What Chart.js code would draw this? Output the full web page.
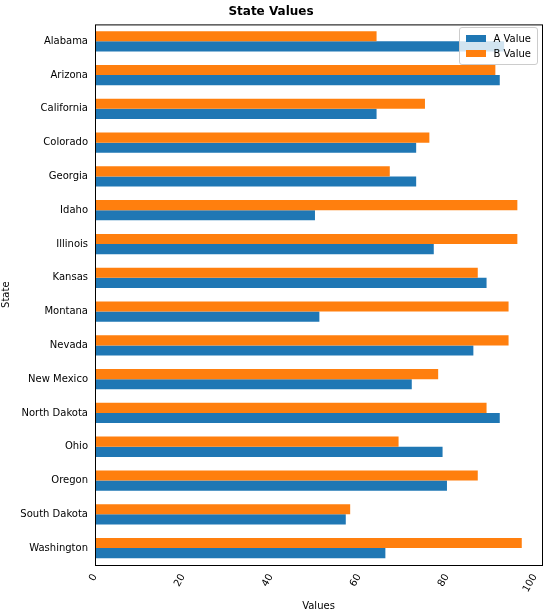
<!DOCTYPE html>
<html>
<head>
<meta charset="utf-8">
<script src="https://cdn.jsdelivr.net/npm/chart.js@4/dist/chart.umd.min.js"></script>
<style>
  body { margin: 0; background: #fff; }
  #wrap { position: relative; width: 550px; height: 616px; }
  #legend { position: absolute; right: 12px; top: 27px; border: 1px solid #ccc; border-radius: 3px;
    background: rgba(255,255,255,0.8); padding: 3px 6px; font: 10px "DejaVu Sans", sans-serif; }
  #legend div { display: flex; align-items: center; height: 15px; }
  #legend span.sw { width: 20px; height: 7px; margin-right: 8px; display: inline-block; }
</style>
</head>
<body>
<div id="wrap">
  <canvas id="chart" width="550" height="616"></canvas>
  <div id="legend">
    <div><span class="sw" style="background:#1f77b4"></span>A Value</div>
    <div><span class="sw" style="background:#ff7f0e"></span>B Value</div>
  </div>
</div>
<script>
// --- data ---
const states = ['Alabama', 'Arizona', 'California', 'Colorado', 'Georgia', 'Idaho', 'Illinois', 'Kansas',
  'Montana', 'Nevada', 'New Mexico', 'North Dakota', 'Ohio', 'Oregon', 'South Dakota', 'Washington'];
const aValues = [93, 92, 64, 73, 73, 50, 77, 89, 51, 86, 72, 92, 79, 80, 57, 66];
const bValues = [64, 91, 75, 76, 67, 96, 96, 87, 94, 94, 78, 89, 69, 87, 58, 97];
const xTicks = [0, 20, 40, 60, 80, 100];

const font = { family: 'DejaVu Sans', size: 10 };

// matplotlib-like frame around the plot area
const framePlugin = {
  id: 'frame',
  afterDraw(chart) {
    const { ctx, chartArea: a } = chart;
    ctx.save();
    ctx.strokeStyle = '#000';
    ctx.lineWidth = 1;
    ctx.strokeRect(a.left + 0.5, a.top + 0.5, a.right - a.left, a.bottom - a.top);
    ctx.restore();
  }
};

new Chart(document.getElementById('chart'), {
  type: 'bar',
  data: {
    labels: states,
    // B first so it sits above A inside each group
    datasets: [
      { label: 'B Value', data: bValues, backgroundColor: '#ff7f0e' },
      { label: 'A Value', data: aValues, backgroundColor: '#1f77b4' }
    ]
  },
  options: {
    indexAxis: 'y',
    responsive: false,
    animation: false,
    categoryPercentage: 0.6,
    barPercentage: 1,
    layout: { padding: { right: 8 } },
    plugins: {
      legend: { display: false },
      tooltip: { enabled: false },
      title: { display: true, text: 'State Values', color: '#000',
        font: { family: 'DejaVu Sans', size: 12 }, padding: { top: 5, bottom: 5 } }
    },
    scales: {
      x: {
        min: 0, max: 101.6,
        afterBuildTicks: s => { s.ticks = xTicks.map(v => ({ value: v })); },
        afterFit: s => { s.height = 51; },
        grid: { display: false, drawTicks: true, tickLength: 4 },
        border: { display: false },
        ticks: { color: '#000', font, maxRotation: 60, minRotation: 60 },
        title: { display: true, text: 'Values', color: '#000', font, padding: { top: 0 } }
      },
      y: {
        afterFit: s => { s.width = 95; },
        grid: { display: false, drawTicks: true, tickLength: 4 },
        border: { display: false },
        ticks: { color: '#000', font },
        title: { display: true, text: 'State', color: '#000', font, padding: 0 }
      }
    }
  },
  plugins: [framePlugin]
});
</script>
</body>
</html>
